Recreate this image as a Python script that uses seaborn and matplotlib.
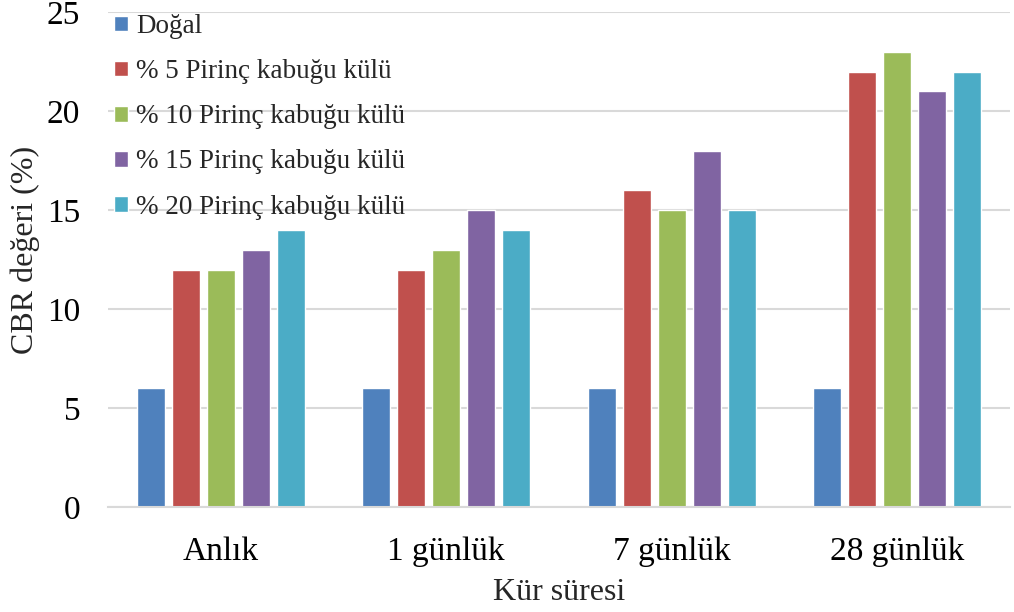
import pandas as pd
import matplotlib
matplotlib.use("Agg")
import matplotlib.pyplot as plt
import seaborn as sns

# chart data
periods = ["Anlık", "1 günlük", "7 günlük", "28 günlük"]
series_names = ["Doğal", "% 5 Pirinç kabuğu külü", "% 10 Pirinç kabuğu külü",
                "% 15 Pirinç kabuğu külü", "% 20 Pirinç kabuğu külü"]
dogal = [6, 6, 6, 6]
pk5 = [12, 12, 16, 22]
pk10 = [12, 13, 15, 23]
pk15 = [13, 15, 18, 21]
pk20 = [14, 14, 15, 22]
colors = ["#4F81BD", "#C0504D", "#9BBB59", "#8064A2", "#4BACC6"]

rows = []
for name, vals in zip(series_names, [dogal, pk5, pk10, pk15, pk20]):
    for p, v in zip(periods, vals):
        rows.append({"Kür süresi": p, "Seri": name, "CBR": v})
df = pd.DataFrame(rows)

sns.set_style("white")
plt.rcParams["font.family"] = ["Liberation Serif", "DejaVu Serif"]

fig = plt.figure(figsize=(10.14, 6.12), dpi=100)
ax = fig.add_axes([0.1065, 0.1716, 0.8895, 0.8084])

sns.barplot(data=df, x="Kür süresi", y="CBR", hue="Seri", hue_order=series_names,
            order=periods, palette=colors, width=0.775, gap=0.2, ax=ax,
            errorbar=None, saturation=1, zorder=2)

ax.set_ylim(0, 25)
ax.set_yticks([0, 5, 10, 15, 20, 25])
ax.set_xlim(-0.5, 3.5)
ax.yaxis.grid(True, color="#D9D9D9", linewidth=1.5, zorder=0)
ax.set_axisbelow(True)
for s in ["top", "right", "left"]:
    ax.spines[s].set_visible(False)
ax.spines["bottom"].set_color("#D9D9D9")
ax.spines["bottom"].set_linewidth(1.5)
ax.tick_params(axis="both", length=0, labelsize=24, colors="black")
ax.tick_params(axis="x", pad=21)
ax.tick_params(axis="y", pad=20)

ax.set_xlabel("Kür süresi", fontsize=23, labelpad=8)
ax.set_ylabel("CBR değeri (%)", fontsize=23, labelpad=5)
ax.yaxis.label.set_y(0.52)

leg = ax.legend(loc="upper left", bbox_to_anchor=(-0.02, 1.045), frameon=False,
                fontsize=19.5, handlelength=0.5, handleheight=0.5,
                handletextpad=0.3, labelspacing=0.74)

fig.savefig("out.png", dpi=100)
